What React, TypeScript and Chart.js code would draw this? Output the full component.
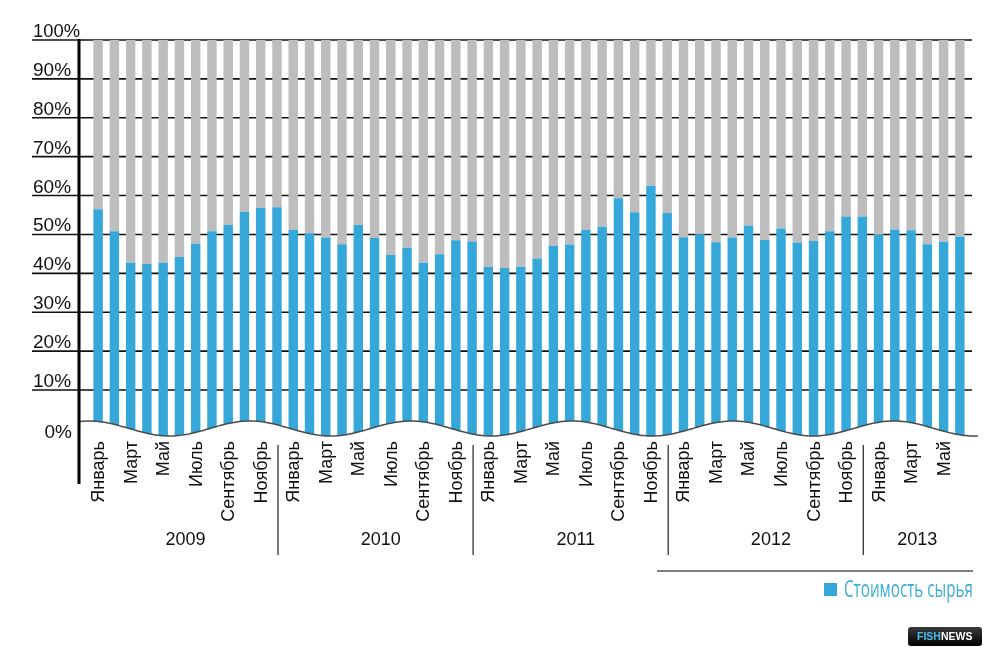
import { useEffect, useRef } from "react"
import { Chart, registerables } from "chart.js"

Chart.register(...registerables)

const YEARS = ["2009", "2010", "2011", "2012", "2013"]
const MONTHS = [
  "Январь", "Февраль", "Март", "Апрель", "Май", "Июнь",
  "Июль", "Август", "Сентябрь", "Октябрь", "Ноябрь", "Декабрь",
]

// доля стоимости сырья, % (по месяцам)
const RAW_2009 = [56.5, 50.8, 42.7, 42.4, 42.7, 44.2, 47.6, 50.8, 52.5, 55.8, 56.8, 57.0]
const RAW_2010 = [51.2, 50.3, 49.2, 47.5, 52.4, 49.1, 44.7, 46.6, 42.7, 44.9, 48.5, 48.2]
const RAW_2011 = [41.6, 41.4, 41.7, 43.8, 47.1, 47.4, 51.2, 52.0, 59.3, 55.7, 62.5, 55.5]
const RAW_2012 = [49.3, 50.0, 48.0, 49.2, 52.3, 48.6, 51.5, 47.9, 48.3, 50.8, 54.6, 54.6]
const RAW_2013 = [49.9, 51.3, 51.1, 47.5, 48.1, 49.5]

const RAW_BY_YEAR = [RAW_2009, RAW_2010, RAW_2011, RAW_2012, RAW_2013]
const Y_TICKS = [0, 10, 20, 30, 40, 50, 60, 70, 80, 90, 100]
const LEGEND_LABEL = "Стоимость сырья"

const rawValues = RAW_BY_YEAR.flat()
const categories = RAW_BY_YEAR.flatMap((vals, yi) => vals.map((_, mi) => `${MONTHS[mi]} ${YEARS[yi]}`))

const BLUE = "#36a7d9"
const GRAY = "#bdbdbd"
const FONT = "'Liberation Sans', Arial, sans-serif"
// низ столбцов уходит немного ниже нуля, под волну
const Y_FLOOR = -2.08

const decorPlugin = {
  id: "decor",
  beforeDatasetsDraw(chart: any) {
    const { ctx, scales } = chart
    const y = scales.y
    ctx.save()
    ctx.strokeStyle = "#111"
    ctx.lineWidth = 1.6
    Y_TICKS.forEach((t) => {
      if (t === 0) return
      const py = y.getPixelForValue(t)
      ctx.beginPath()
      ctx.moveTo(32, py)
      ctx.lineTo(972, py)
      ctx.stroke()
    })
    ctx.restore()
  },
  afterDatasetsDraw(chart: any) {
    const { ctx, chartArea, scales } = chart
    const x = scales.x
    const y = scales.y
    const step = x.getPixelForValue(1) - x.getPixelForValue(0)
    const period = step * 9.9
    const crest = chartArea.left - 1
    const mid = chartArea.bottom - 8.5
    const amp = 7.5
    const waveY = (px: number) => mid - amp * Math.cos((2 * Math.PI * (px - crest)) / period)

    ctx.save()
    // волна (разрыв оси)
    ctx.beginPath()
    for (let px = 80; px <= 978; px += 2) {
      if (px === 80) ctx.moveTo(px, waveY(px))
      else ctx.lineTo(px, waveY(px))
    }
    ctx.lineTo(978, chartArea.bottom + 8)
    ctx.lineTo(80, chartArea.bottom + 8)
    ctx.closePath()
    ctx.fillStyle = "#fff"
    ctx.fill()

    ctx.beginPath()
    for (let px = 80; px <= 978; px += 2) {
      if (px === 80) ctx.moveTo(px, waveY(px))
      else ctx.lineTo(px, waveY(px))
    }
    ctx.strokeStyle = "#4a4a4a"
    ctx.lineWidth = 1.5
    ctx.stroke()

    // ось Y
    ctx.fillStyle = "#000"
    ctx.fillRect(77.5, y.getPixelForValue(100) - 1, 3, 485 - y.getPixelForValue(100))

    // подписи оси Y
    ctx.fillStyle = "#111"
    ctx.font = `19px ${FONT}`
    ctx.textBaseline = "alphabetic"
    Y_TICKS.forEach((t) => {
      const py = y.getPixelForValue(t)
      if (t === 0) {
        ctx.textAlign = "right"
        ctx.fillText(`${t}%`, 72, py + 9)
      } else {
        ctx.textAlign = "left"
        ctx.fillText(`${t}%`, 33, py - 3, t === 100 ? 47 : 40)
      }
    })

    // месяцы
    ctx.font = `18px ${FONT}`
    ctx.textAlign = "right"
    ctx.textBaseline = "middle"
    let idx = 0
    RAW_BY_YEAR.forEach((vals) => {
      vals.forEach((_, mi) => {
        if (mi % 2 === 0) {
          const px = x.getPixelForValue(idx)
          ctx.save()
          ctx.translate(px + 1, 441)
          ctx.rotate(-Math.PI / 2)
          ctx.fillText(MONTHS[mi], 0, 0)
          ctx.restore()
        }
        idx++
      })
    })

    // годы и разделители
    ctx.textAlign = "center"
    ctx.textBaseline = "middle"
    let start = 0
    RAW_BY_YEAR.forEach((vals, yi) => {
      const end = start + vals.length - 1
      const cx = (x.getPixelForValue(start) + x.getPixelForValue(end)) / 2
      ctx.fillText(YEARS[yi], cx - 2, 540)
      if (yi < RAW_BY_YEAR.length - 1) {
        const sx = x.getPixelForValue(end) + 1
        ctx.strokeStyle = "#333"
        ctx.lineWidth = 1.3
        ctx.beginPath()
        ctx.moveTo(sx, 445)
        ctx.lineTo(sx, 555)
        ctx.stroke()
      }
      start = end + 1
    })

    // линия над легендой
    ctx.strokeStyle = "#555"
    ctx.lineWidth = 1.3
    ctx.beginPath()
    ctx.moveTo(657, 571)
    ctx.lineTo(973, 571)
    ctx.stroke()

    // легенда
    ctx.fillStyle = BLUE
    ctx.fillRect(824, 583, 13, 13)
    ctx.fillStyle = "#3aaedb"
    ctx.font = `24px 'Open Sans', ${FONT}`
    ctx.textAlign = "left"
    ctx.textBaseline = "middle"
    ctx.fillText(LEGEND_LABEL, 844, 590, 129)

    // логотип
    const grad = ctx.createLinearGradient(0, 627, 0, 646)
    grad.addColorStop(0, "#3a3a3a")
    grad.addColorStop(1, "#000")
    ctx.fillStyle = grad
    ctx.beginPath()
    ctx.roundRect(908, 627, 74, 19, 3)
    ctx.fill()
    ctx.font = `bold 10.5px ${FONT}`
    ctx.textAlign = "left"
    ctx.textBaseline = "middle"
    const fishW = ctx.measureText("FISH").width
    ctx.fillStyle = "#48bff0"
    ctx.fillText("FISH", 917, 637)
    ctx.fillStyle = "#fff"
    ctx.fillText("NEWS", 917 + fishW, 637)
    ctx.restore()
  },
}

export default function App() {
  const chartRef = useRef<HTMLCanvasElement>(null)
  const chartInstance = useRef<Chart | null>(null)

  useEffect(() => {
    if (!chartRef.current) return
    if (chartInstance.current) chartInstance.current.destroy()

    chartInstance.current = new Chart(chartRef.current, {
      type: "bar",
      data: {
        labels: categories,
        datasets: [
          {
            label: LEGEND_LABEL,
            data: rawValues,
            base: Y_FLOOR,
            backgroundColor: BLUE,
            borderWidth: 0,
            grouped: false,
            barPercentage: 0.58,
            categoryPercentage: 1,
          } as any,
          {
            label: "Прочее",
            data: rawValues.map((v) => [v, 100]),
            backgroundColor: GRAY,
            borderWidth: 0,
            grouped: false,
            barPercentage: 0.58,
            categoryPercentage: 1,
          } as any,
        ],
      },
      options: {
        responsive: true,
        maintainAspectRatio: false,
        animation: false,
        layout: { padding: { left: 90, right: 24, top: 40, bottom: 219 } },
        plugins: {
          legend: { display: false },
          tooltip: { enabled: false },
        },
        scales: {
          x: { display: false },
          y: { display: false, min: Y_FLOOR, max: 100 },
        },
      },
      plugins: [decorPlugin],
    })

    return () => {
      if (chartInstance.current) {
        chartInstance.current.destroy()
        chartInstance.current = null
      }
    }
  }, [])

  return (
    <div style={{ position: "absolute", left: 0, top: 0, width: 992, height: 656, background: "#fff" }}>
      <canvas ref={chartRef} />
    </div>
  )
}
